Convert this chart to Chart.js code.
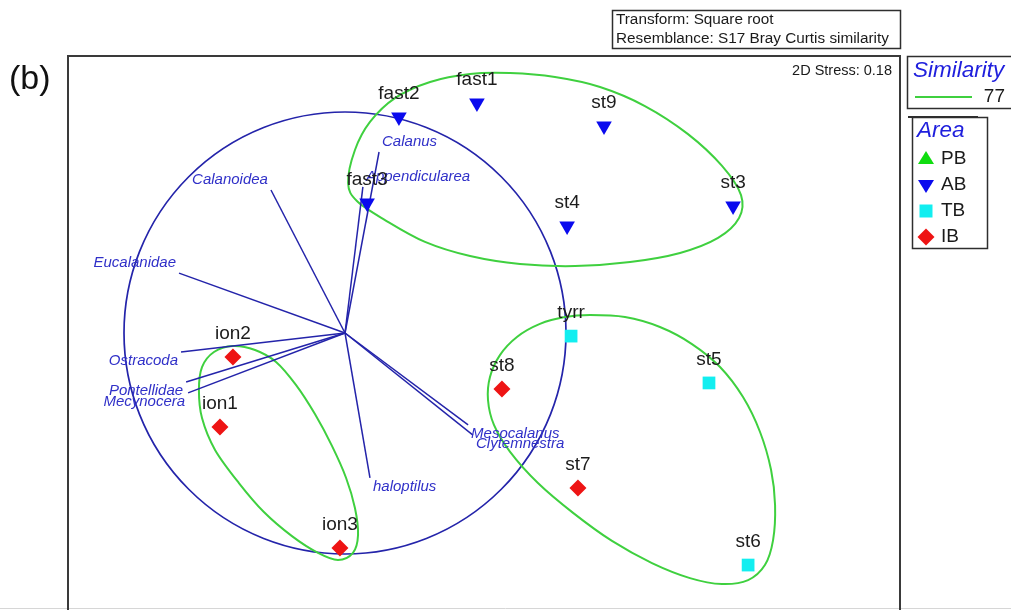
<!DOCTYPE html>
<html>
<head>
<meta charset="utf-8">
<title>nMDS (b)</title>
<script src="https://cdn.jsdelivr.net/npm/chart.js@4.4.1/dist/chart.umd.min.js"></script>
<style>
  html, body { margin: 0; padding: 0; background: #ffffff; }
  canvas { display: block; }
</style>
</head>
<body>
<canvas id="mds" width="1011" height="610"></canvas>
<script>
// ---- samples (2D nMDS coordinates) ----
const abNames = ['fast1', 'fast2', 'fast3', 'st9', 'st4', 'st3'];
const abX = [0.597, 0.244, 0.100, 1.172, 1.005, 1.756];
const abY = [1.041, 0.977, 0.588, 0.937, 0.484, 0.575];

const tbNames = ['tyrr', 'st5', 'st6'];
const tbX = [1.023, 1.647, 1.824];
const tbY = [-0.014, -0.226, -1.050];

const ibNames = ['st8', 'st7', 'ion1', 'ion2', 'ion3'];
const ibX = [0.710, 1.054, -0.566, -0.507, -0.023];
const ibY = [-0.253, -0.701, -0.425, -0.109, -0.973];

// ---- taxa vectors (Pearson correlations with the ordination axes) ----
const taxa = ['Calanus', 'Appendicularea', 'Calanoidea', 'Eucalanidae', 'Ostracoda',
              'Pontellidae', 'Mecynocera', 'haloptilus', 'Mesocalanus', 'Clytemnestra'];
const taxaX = [0.154, 0.081, -0.335, -0.751, -0.742, -0.719, -0.710, 0.113, 0.557, 0.579];
const taxaY = [0.819, 0.661, 0.647, 0.271, -0.086, -0.222, -0.271, -0.656, -0.416, -0.462];
const circleRadius = 1;

// ---- 77% similarity contours (cluster outlines) ----
const contourABx = [0.014, 0.045, 0.113, 0.226, 0.385, 0.566, 0.747, 0.950, 1.154, 1.357, 1.552, 1.706,
                    1.792, 1.783, 1.688, 1.516, 1.290, 1.041, 0.792, 0.566, 0.362, 0.181, 0.054];
const contourABy = [0.679, 0.828, 0.955, 1.063, 1.136, 1.172, 1.176, 1.158, 1.113, 1.027, 0.900, 0.756,
                    0.624, 0.520, 0.430, 0.362, 0.321, 0.303, 0.312, 0.348, 0.412, 0.511, 0.597];

const contourTBx = [1.109, 1.267, 1.425, 1.570, 1.697, 1.801, 1.878, 1.928, 1.946, 1.937, 1.900, 1.824, 1.706,
                    1.561, 1.389, 1.208, 1.032, 0.873, 0.747, 0.674, 0.647, 0.656, 0.701, 0.778, 0.882, 0.995];
const contourTBy = [0.081, 0.072, 0.027, -0.050, -0.154, -0.290, -0.448, -0.620, -0.778, -0.937, -1.050, -1.118, -1.136,
                    -1.109, -1.041, -0.941, -0.814, -0.679, -0.538, -0.416, -0.303, -0.199, -0.100, -0.018, 0.041, 0.072];

const contourIBx = [-0.507, -0.407, -0.312, -0.222, -0.136, -0.059, 0.005, 0.045, 0.059, 0.036,
                    -0.032, -0.122, -0.240, -0.367, -0.480, -0.588, -0.647, -0.661, -0.647, -0.593];
const contourIBy = [-0.059, -0.077, -0.131, -0.235, -0.367, -0.511, -0.656, -0.792, -0.914, -0.995,
                    -1.027, -0.995, -0.919, -0.810, -0.679, -0.529, -0.385, -0.258, -0.154, -0.086];

// ---- text ----
const stressText = '2D Stress: 0.18';
const headerLines = ['Transform: Square root', 'Resemblance: S17 Bray Curtis similarity'];
const similarityLevel = '77';
const areaNames = ['PB', 'AB', 'TB', 'IB'];
const panelTag = '(b)';

// ---- styles ----
const FONT = '"Liberation Sans", Arial, Helvetica, sans-serif';
const C_AB = '#0a0aee';
const C_TB = '#12eef0';
const C_IB = '#ee1414';
const C_PB = '#10dd10';
const C_GREEN = '#3fd03f';
const C_VECTOR = '#2424aa';
const C_VLABEL = '#3030c8';
const C_TITLE = '#2020dd';
const C_FRAME = '#3a3a3a';

const toPoints = (xs, ys) => xs.map((v, i) => ({ x: v, y: ys[i] }));

const vectorSets = taxa.map((name, i) => ({
  label: name,
  data: [{ x: 0, y: 0 }, { x: taxaX[i], y: taxaY[i] }],
  showLine: true,
  borderColor: C_VECTOR,
  borderWidth: 1.5,
  pointRadius: 0,
  order: 5
}));

const markerSets = [
  { label: 'AB', names: abNames, data: toPoints(abX, abY), pointStyle: 'triangle', rotation: 180,
    pointRadius: 9, backgroundColor: C_AB, borderColor: C_AB, borderWidth: 0, order: 1 },
  { label: 'TB', names: tbNames, data: toPoints(tbX, tbY), pointStyle: 'rect', rotation: 0,
    pointRadius: 9, backgroundColor: C_TB, borderColor: C_TB, borderWidth: 0, order: 1 },
  { label: 'IB', names: ibNames, data: toPoints(ibX, ibY), pointStyle: 'rectRot', rotation: 0,
    pointRadius: 8.5, backgroundColor: C_IB, borderColor: C_IB, borderWidth: 0, order: 1 }
];

// closed Catmull-Rom curve through pixel points
function closedCurve(ctx, xs, ys) {
  const n = xs.length;
  ctx.beginPath();
  ctx.moveTo(xs[0], ys[0]);
  for (let i = 0; i < n; i++) {
    const i0 = (i - 1 + n) % n, i2 = (i + 1) % n, i3 = (i + 2) % n;
    const c1x = xs[i] + (xs[i2] - xs[i0]) / 6, c1y = ys[i] + (ys[i2] - ys[i0]) / 6;
    const c2x = xs[i2] - (xs[i3] - xs[i]) / 6, c2y = ys[i2] - (ys[i3] - ys[i]) / 6;
    ctx.bezierCurveTo(c1x, c1y, c2x, c2y, xs[i2], ys[i2]);
  }
  ctx.closePath();
  ctx.stroke();
}

function legendMarker(ctx, style, x, y, color) {
  ctx.fillStyle = color;
  ctx.beginPath();
  if (style === 'up') {
    ctx.moveTo(x, y - 8); ctx.lineTo(x + 8, y + 5); ctx.lineTo(x - 8, y + 5);
  } else if (style === 'down') {
    ctx.moveTo(x, y + 8); ctx.lineTo(x + 8, y - 5); ctx.lineTo(x - 8, y - 5);
  } else if (style === 'square') {
    ctx.rect(x - 6.5, y - 6.5, 13, 13);
  } else {
    ctx.moveTo(x, y - 8.5); ctx.lineTo(x + 8.5, y); ctx.lineTo(x, y + 8.5); ctx.lineTo(x - 8.5, y);
  }
  ctx.closePath();
  ctx.fill();
}

const ordinationPlugin = {
  id: 'ordination',
  beforeDatasetsDraw(chart) {
    const { ctx, chartArea: a, scales: { x, y } } = chart;
    ctx.save();
    ctx.beginPath();
    ctx.rect(a.left, a.top, a.right - a.left, a.bottom - a.top);
    ctx.clip();
    // correlation circle
    ctx.strokeStyle = C_VECTOR;
    ctx.lineWidth = 1.7;
    ctx.beginPath();
    ctx.ellipse(x.getPixelForValue(0), y.getPixelForValue(0),
      x.getPixelForValue(circleRadius) - x.getPixelForValue(0),
      y.getPixelForValue(0) - y.getPixelForValue(circleRadius), 0, 0, Math.PI * 2);
    ctx.stroke();
    // similarity contours
    ctx.strokeStyle = C_GREEN;
    ctx.lineWidth = 2;
    [[contourABx, contourABy], [contourTBx, contourTBy], [contourIBx, contourIBy]].forEach(([cx, cy]) => {
      closedCurve(ctx, cx.map(v => x.getPixelForValue(v)), cy.map(v => y.getPixelForValue(v)));
    });
    ctx.restore();
  },
  afterDatasetsDraw(chart) {
    const { ctx, scales: { x, y } } = chart;
    ctx.save();
    // taxa labels at the tips of the vectors
    ctx.font = 'italic 15px ' + FONT;
    ctx.fillStyle = C_VLABEL;
    ctx.textBaseline = 'middle';
    taxa.forEach((name, i) => {
      const ex = x.getPixelForValue(taxaX[i]);
      const ey = y.getPixelForValue(taxaY[i]);
      const right = taxaX[i] > 0;
      ctx.textAlign = right ? 'left' : 'right';
      ctx.fillText(name, ex + (right ? 3 : -3), ey + (taxaY[i] > 0 ? -10 : 9));
    });
    // sample labels above markers
    ctx.font = '19px ' + FONT;
    ctx.fillStyle = '#1c1c1c';
    ctx.textAlign = 'center';
    chart.data.datasets.forEach((ds, di) => {
      if (!ds.names) return;
      chart.getDatasetMeta(di).data.forEach((pt, j) => {
        ctx.fillText(ds.names[j], pt.x, pt.y - 23.5);
      });
    });
    ctx.restore();
  },
  afterDraw(chart) {
    const { ctx, chartArea: a } = chart;
    ctx.save();
    // faint lower edge
    ctx.strokeStyle = '#d6d6d6';
    ctx.lineWidth = 1;
    ctx.beginPath(); ctx.moveTo(0, 608.5); ctx.lineTo(1011, 608.5); ctx.stroke();
    // plot frame
    ctx.strokeStyle = C_FRAME;
    ctx.lineWidth = 2;
    ctx.beginPath();
    ctx.moveTo(a.left, a.bottom + 2);
    ctx.lineTo(a.left, a.top);
    ctx.lineTo(a.right, a.top);
    ctx.lineTo(a.right, a.bottom + 2);
    ctx.stroke();

    // panel tag
    ctx.fillStyle = '#111';
    ctx.font = '34px ' + FONT;
    ctx.textAlign = 'left';
    ctx.textBaseline = 'alphabetic';
    ctx.fillText(panelTag, 9, 89);

    // stress
    ctx.font = '14.5px ' + FONT;
    ctx.textAlign = 'right';
    ctx.textBaseline = 'middle';
    ctx.fillStyle = '#1a1a1a';
    ctx.fillText(stressText, a.right - 8, 71);

    // transform / resemblance box
    ctx.strokeStyle = '#2e2e2e';
    ctx.lineWidth = 1.5;
    ctx.strokeRect(612.5, 10.5, 288, 38);
    ctx.font = '15.3px ' + FONT;
    ctx.textAlign = 'left';
    ctx.fillText(headerLines[0], 616, 20);
    ctx.fillText(headerLines[1], 616, 39);

    // similarity legend
    ctx.strokeRect(907.5, 56.5, 112, 52);
    ctx.fillStyle = C_TITLE;
    ctx.font = 'italic 22.5px ' + FONT;
    ctx.fillText('Similarity', 913, 71);
    ctx.strokeStyle = C_GREEN;
    ctx.lineWidth = 2;
    ctx.beginPath(); ctx.moveTo(915, 97); ctx.lineTo(972, 97); ctx.stroke();
    ctx.fillStyle = '#1a1a1a';
    ctx.font = '19px ' + FONT;
    ctx.textAlign = 'right';
    ctx.fillText(similarityLevel, 1005, 97);

    // area legend
    ctx.strokeStyle = '#2e2e2e';
    ctx.lineWidth = 1.5;
    ctx.strokeRect(912.5, 117.5, 75, 131);
    ctx.lineWidth = 2;
    ctx.beginPath(); ctx.moveTo(908, 117); ctx.lineTo(978, 117); ctx.stroke();
    ctx.fillStyle = C_TITLE;
    ctx.font = 'italic 22.5px ' + FONT;
    ctx.textAlign = 'left';
    ctx.fillText('Area', 917, 131);
    const styles = ['up', 'down', 'square', 'diamond'];
    const colors = [C_PB, C_AB, C_TB, C_IB];
    ctx.font = '19px ' + FONT;
    areaNames.forEach((name, i) => {
      const yy = 159 + i * 26;
      legendMarker(ctx, styles[i], 926, yy, colors[i]);
      ctx.fillStyle = '#1a1a1a';
      ctx.fillText(name, 941, yy);
    });
    ctx.restore();
  }
};

new Chart(document.getElementById('mds'), {
  type: 'scatter',
  data: { datasets: [...markerSets, ...vectorSets] },
  options: {
    responsive: false,
    animation: false,
    devicePixelRatio: 1,
    events: [],
    layout: { autoPadding: false, padding: { left: 68, top: 56, right: 111, bottom: 0 } },
    scales: {
      x: { type: 'linear', min: -1.2534, max: 2.5113, display: false },
      y: { type: 'linear', min: -1.2534, max: 1.2534, display: false }
    },
    plugins: { legend: { display: false }, tooltip: { enabled: false } }
  },
  plugins: [ordinationPlugin]
});
</script>
</body>
</html>
